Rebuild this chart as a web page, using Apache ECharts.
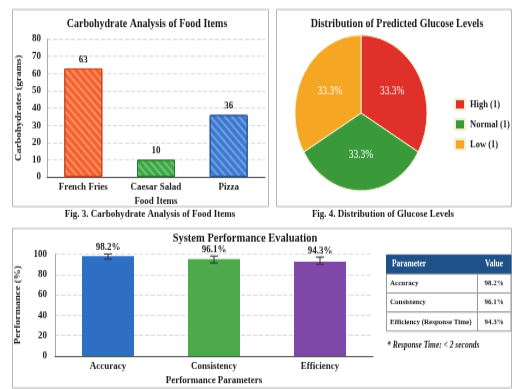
<!DOCTYPE html>
<html>
<head>
<meta charset="utf-8">
<script src="https://cdn.jsdelivr.net/npm/echarts@6/dist/echarts.min.js"></script>
<style>
  html, body { margin: 0; padding: 0; background: #fff; width: 512px; height: 389px; }
  #main { width: 512px; height: 330px; transform-origin: 0 0; }
</style>
</head>
<body>
<div id="main"></div>
<script>
// data
var foodItems = ['French Fries', 'Caesar Salad', 'Pizza'];
var carbValues = [63, 10, 36];
var carbColors = ['#f4622c', '#3aa843', '#3a78d2'];
var carbBorders = ['#c8441a', '#237a2c', '#22559e'];

var glucoseLevels = ['High', 'Normal', 'Low'];
var glucoseCounts = [1, 1, 1];
var glucoseColors = ['#e0302a', '#3a9a3a', '#f5a623'];

var perfParams = ['Accuracy', 'Consistency', 'Efficiency'];
var perfValues = [98, 95, 92.5];
var perfLow = [95.1, 91.2, 89.9];
var perfHigh = [100, 98, 97];
var perfLabels = ['98.2%', '96.1%', '94.3%'];
var perfColors = ['#2e6fc4', '#4caa4c', '#7e47a8'];

var tableHeader = ['Parameter', 'Value'];
var tableParams = ['Accuracy', 'Consistency', 'Efficiency (Response Time)'];
var tableValues = ['98.2%', '96.1%', '94.3%'];

// the reference is stretched vertically, so draw squeezed and scale the div back
var S = 389 / 330;
function py(p) { return p / S; }

var dom = document.getElementById('main');
dom.style.transform = 'scaleY(' + S + ')';
var chart = echarts.init(dom, null, { renderer: 'canvas' });

var FONT = 'Liberation Serif';
var axisText = { fontFamily: FONT, fontWeight: 'bold', fontSize: 9, color: '#222' };

function txt(x, y, text, size, extra) {
  var st = {
    text: text, x: x, y: py(y),
    font: (extra && extra.font) || ('bold ' + size + 'px "' + FONT + '"'),
    fill: (extra && extra.fill) || '#1a1a1a',
    textAlign: (extra && extra.align) || 'center',
    textVerticalAlign: 'middle'
  };
  return { type: 'text', silent: true, z: 10, style: st };
}
function box(x1, y1, x2, y2, fill, stroke) {
  return {
    type: 'rect', silent: true, z: (fill ? 5 : 1),
    shape: { x: x1, y: py(y1), width: x2 - x1, height: py(y2) - py(y1) },
    style: { fill: fill || 'none', stroke: stroke || '#b8b8b8', lineWidth: 1 }
  };
}

var graphics = [
  box(12.5, 9.5, 268.5, 206.5),
  box(276.5, 9.5, 511.5, 206.5),
  box(12.5, 228.5, 511.5, 388),
  txt(147, 24, 'Carbohydrate Analysis of Food Items', 10),
  txt(397, 24, 'Distribution of Predicted Glucose Levels', 10),
  txt(150, 214, 'Fig. 3. Carbohydrate Analysis of Food Items', 9),
  txt(383, 214, 'Fig. 4. Distribution of Glucose Levels', 9),
  txt(245, 238, 'System Performance Evaluation', 10.5),
  txt(387, 346, '* Response Time: < 2 seconds', 7.5, { align: 'left', font: 'italic bold 7.5px "' + FONT + '"' })
];

// table
var tx0 = 386, tx1 = 477, tx2 = 511;
var rowY = [255, 274, 293, 312, 331];
graphics.push(box(tx0 + 0.5, rowY[0], tx2, rowY[1], '#1f5189', '#1f5189'));
graphics.push(txt(tx0 + 6, (rowY[0] + rowY[1]) / 2, tableHeader[0], 7.5, { align: 'left', fill: '#fff' }));
graphics.push(txt((tx1 + tx2) / 2, (rowY[0] + rowY[1]) / 2, tableHeader[1], 7.5, { fill: '#fff' }));
tableParams.forEach(function (p, i) {
  var y1 = rowY[i + 1], y2 = rowY[i + 2];
  graphics.push(box(tx0 + 0.5, y1, tx1 + 0.5, y2, '#fff', '#9a9a9a'));
  graphics.push(box(tx1 + 0.5, y1, tx2, y2, '#fff', '#9a9a9a'));
  graphics.push(txt(tx0 + 4, (y1 + y2) / 2, p, 7, { align: 'left' }));
  graphics.push(txt((tx1 + tx2) / 2, (y1 + y2) / 2, tableValues[i], 7));
});

var glucoseTotal = glucoseCounts.reduce(function (a, b) { return a + b; }, 0);

var option = {
  animation: false,
  backgroundColor: '#fff',
  textStyle: { fontFamily: FONT },
  graphic: graphics,
  legend: {
    orient: 'vertical',
    left: 449,
    top: py(92),
    itemWidth: 10,
    itemHeight: 9,
    itemGap: 6,
    icon: 'rect',
    textStyle: { fontFamily: FONT, fontWeight: 'bold', fontSize: 8.5, color: '#222' },
    data: glucoseLevels.map(function (l, i) { return l + ' (' + glucoseCounts[i] + ')'; })
  },
  grid: [
    { left: 47, right: 512 - 265, top: py(39), height: py(177) - py(39) },
    { left: 55, right: 512 - 373, top: py(254), height: py(356) - py(254) }
  ],
  xAxis: [
    {
      gridIndex: 0, type: 'category', data: foodItems,
      name: 'Food Items', nameLocation: 'middle', nameGap: py(199 - 177) - 3,
      nameTextStyle: axisText,
      axisLine: { lineStyle: { color: '#555' } },
      axisTick: { show: false },
      axisLabel: Object.assign({ margin: 4 }, axisText)
    },
    {
      gridIndex: 1, type: 'category', data: perfParams,
      name: 'Performance Parameters', nameLocation: 'middle', nameGap: py(379 - 356) - 3,
      nameTextStyle: axisText,
      axisLine: { lineStyle: { color: '#555' } },
      axisTick: { show: false },
      axisLabel: Object.assign({ margin: 4 }, axisText)
    }
  ],
  yAxis: [
    {
      gridIndex: 0, type: 'value', min: 0, max: 80, interval: 10,
      name: 'Carbohydrates (grams)', nameLocation: 'middle', nameRotate: 90, nameGap: 24,
      nameTextStyle: axisText,
      axisLine: { show: true, lineStyle: { color: '#aaa' } },
      axisTick: { show: false },
      splitLine: { lineStyle: { color: '#ddd', type: 'dashed' } },
      axisLabel: Object.assign({ margin: 6 }, axisText)
    },
    {
      gridIndex: 1, type: 'value', min: 0, max: 100, interval: 20,
      name: 'Performance (%)', nameLocation: 'middle', nameRotate: 90, nameGap: 28,
      nameTextStyle: axisText,
      axisLine: { show: true, lineStyle: { color: '#aaa' } },
      axisTick: { show: false },
      splitLine: { lineStyle: { color: '#ddd', type: 'dashed' } },
      axisLabel: Object.assign({ margin: 8 }, axisText)
    }
  ],
  series: [
    {
      type: 'bar', xAxisIndex: 0, yAxisIndex: 0, barWidth: 38,
      data: carbValues.map(function (v, i) {
        return {
          value: v,
          itemStyle: {
            color: carbColors[i], borderColor: carbBorders[i], borderWidth: 1,
            decal: {
              symbol: 'rect', symbolSize: 1, color: 'rgba(255,255,255,0.28)',
              dashArrayX: [1, 0], dashArrayY: [1.5, 2.5], rotation: Math.PI / 4
            }
          }
        };
      }),
      label: { show: true, position: 'top', distance: 3, fontFamily: FONT, fontWeight: 'bold', fontSize: 9, color: '#222' }
    },
    {
      type: 'pie', center: [361, py(113)], radius: 66,
      startAngle: 90, clockwise: true,
      label: {
        show: true, position: 'inner', color: '#fff', fontFamily: FONT, fontSize: 9.5,
        formatter: function (p) { return (p.value / glucoseTotal * 100).toFixed(1) + '%'; }
      },
      labelLine: { show: false },
      itemStyle: { borderColor: '#f3efcf', borderWidth: 1 },
      data: glucoseLevels.map(function (l, i) {
        return { name: l + ' (' + glucoseCounts[i] + ')', value: glucoseCounts[i], itemStyle: { color: glucoseColors[i] } };
      })
    },
    {
      type: 'bar', xAxisIndex: 1, yAxisIndex: 1, barWidth: 52,
      data: perfValues.map(function (v, i) {
        return { value: v, itemStyle: { color: perfColors[i] } };
      })
    },
    {
      type: 'custom', xAxisIndex: 1, yAxisIndex: 1, z: 5,
      data: perfParams.map(function (p, i) { return [i, perfLow[i], perfHigh[i]]; }),
      renderItem: function (params, api) {
        var lo = api.coord([api.value(0), api.value(1)]);
        var hi = api.coord([api.value(0), api.value(2)]);
        var cap = 4;
        var st = { stroke: '#333', lineWidth: 1 };
        return {
          type: 'group',
          children: [
            { type: 'line', shape: { x1: hi[0], y1: hi[1], x2: lo[0], y2: lo[1] }, style: st },
            { type: 'line', shape: { x1: hi[0] - cap, y1: hi[1], x2: hi[0] + cap, y2: hi[1] }, style: st },
            { type: 'line', shape: { x1: lo[0] - cap, y1: lo[1], x2: lo[0] + cap, y2: lo[1] }, style: st },
            {
              type: 'text',
              style: {
                text: perfLabels[params.dataIndex], x: hi[0], y: hi[1] - 1,
                textAlign: 'center', textVerticalAlign: 'bottom',
                font: 'bold 9px "' + FONT + '"', fill: '#222'
              }
            }
          ]
        };
      }
    }
  ]
};

chart.setOption(option);
</script>
</body>
</html>
